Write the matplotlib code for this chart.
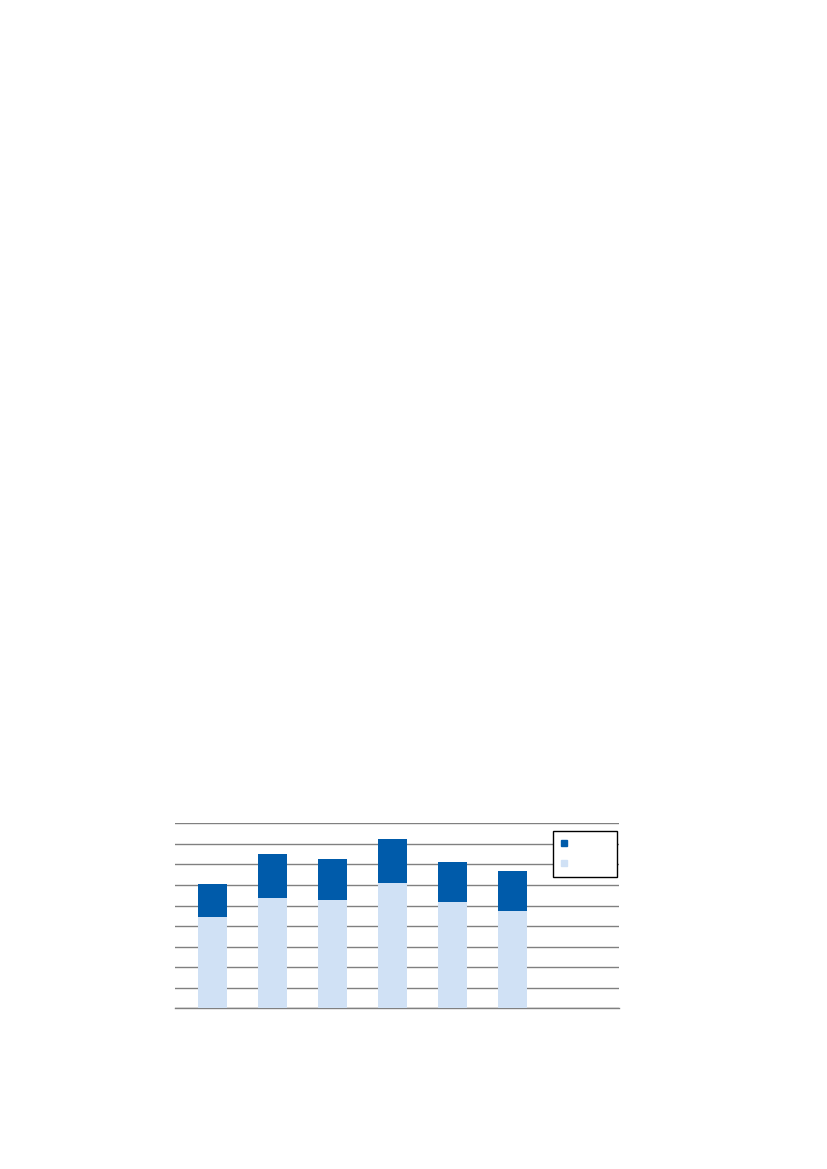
import matplotlib
matplotlib.use("Agg")
import matplotlib.pyplot as plt
from matplotlib.lines import Line2D

# values (no labels shown in the chart)
categories = ["1", "2", "3", "4", "5", "6"]
base_values = [4.43, 5.35, 5.25, 6.11, 5.18, 4.75]
top_values = [1.63, 2.14, 2.03, 2.12, 1.94, 1.91]
y_ticks = [0, 1, 2, 3, 4, 5, 6, 7, 8, 9]

dark_blue = "#005BAA"
light_blue = "#D0E1F5"
grid_grey = "#808080"

fig = plt.figure(figsize=(8.27, 11.69), dpi=100)
ax = fig.add_axes([175.3 / 827, 1 - 1008.3 / 1169, (619 - 175.3) / 827, (1008.3 - 823.3) / 1169])

x = list(range(len(categories)))
ax.bar(x, base_values, width=0.49, color=light_blue, zorder=3)
ax.bar(x, top_values, bottom=base_values, width=0.49, color=dark_blue, zorder=3)

ax.set_xlim(-0.62, 6.78)
ax.set_ylim(0, 9)
ax.set_yticks(y_ticks)
ax.yaxis.grid(True, color=grid_grey, linewidth=1.0, zorder=0)
ax.tick_params(left=False, bottom=False, labelleft=False, labelbottom=False)
for side in ["left", "right", "top"]:
    ax.spines[side].set_visible(False)
ax.spines["bottom"].set_color(grid_grey)
ax.spines["bottom"].set_linewidth(1.0)

handles = [
    Line2D([], [], marker="s", linestyle="none", markersize=5, color=dark_blue),
    Line2D([], [], marker="s", linestyle="none", markersize=5, color=light_blue),
]
leg = fig.legend(handles, ["         ", "         "], loc="upper left",
                 bbox_to_anchor=(553.3 / 827, 1 - 830.7 / 1169), fontsize=9,
                 frameon=True, fancybox=False, edgecolor="black", framealpha=1,
                 handlelength=0.6, handletextpad=0.5, labelspacing=0.55,
                 borderpad=0.55, borderaxespad=0)
leg.get_frame().set_linewidth(1.0)

fig.savefig("out.png", dpi=100)
